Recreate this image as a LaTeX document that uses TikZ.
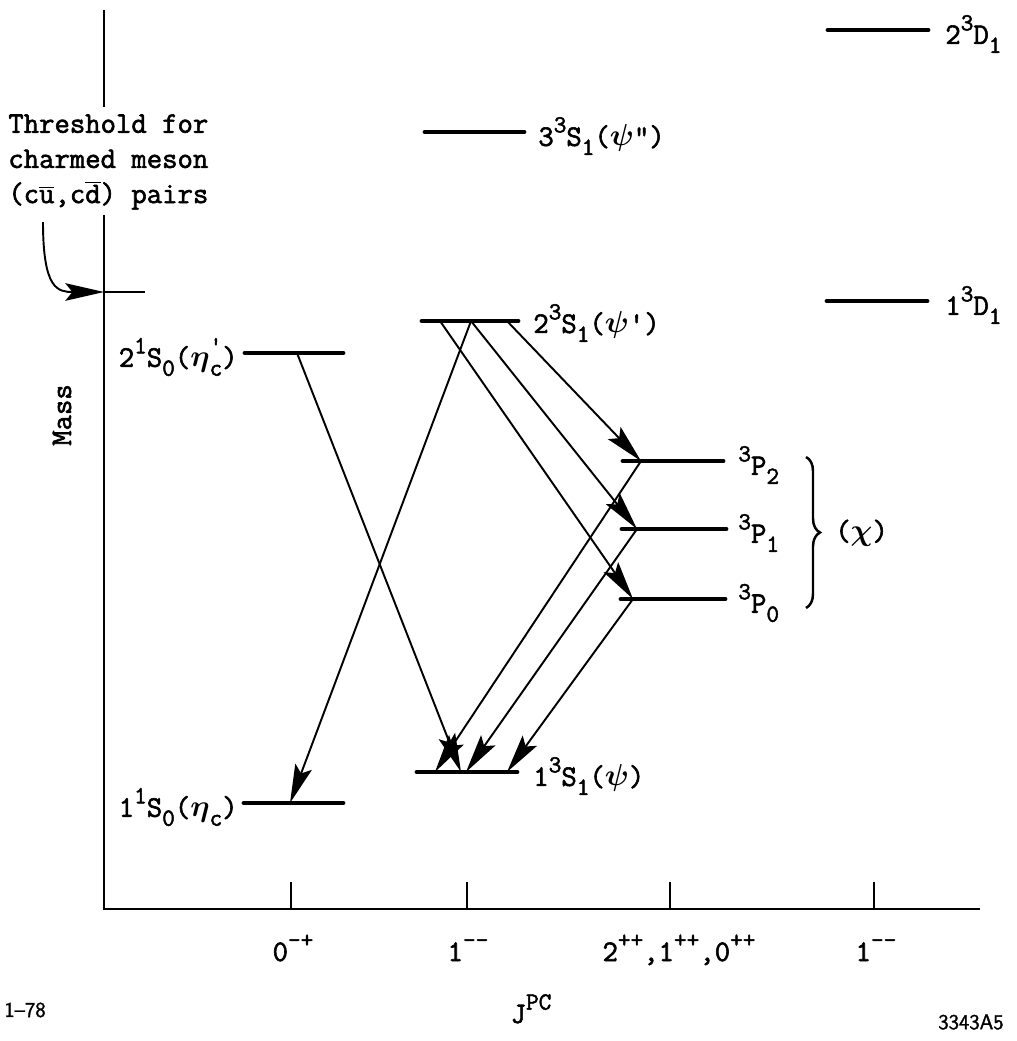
\documentclass[tikz,border=0pt]{standalone}
\usepackage{fontspec}
\usepackage{tikz}
\usetikzlibrary{arrows.meta,decorations.pathreplacing}
\newfontfamily\twfont{Latin Modern Mono}[FakeBold=2]
\newfontfamily\tagfont{Latin Modern Sans}[FakeBold=1.5]
\newcommand\hi[1]{\raisebox{0.45em}{\fontsize{14}{14}\selectfont #1}}
\newcommand\lo[1]{\raisebox{-0.3em}{\fontsize{14}{14}\selectfont #1}}

\begin{document}
\begin{tikzpicture}[
    x=0.02cm, y=-0.02cm,
    lbl/.style={font=\twfont\boldmath\fontsize{17}{20}\selectfont, inner sep=0pt},
    tag/.style={font=\tagfont\fontsize{12}{14}\selectfont, inner sep=0pt},
    lvl/.style={line width=2.8pt, line cap=round},
    axis/.style={line width=1.3pt},
    arr/.style={-{Stealth[length=22pt,width=10pt,inset=4pt]}, line width=1.1pt},
    brc/.style={decorate, decoration={brace, amplitude=0.28cm}, line width=1.4pt}
]
\useasboundingbox (0,0) rectangle (1017,1041);

% axes
\coordinate (ax-top) at (104,10);
\coordinate (ax-brk) at (104,107);
\coordinate (ax-mid) at (104,215);
\coordinate (origin) at (104,909);
\coordinate (ax-end) at (980,909);
\draw[axis] (ax-top) -- (ax-brk);
\draw[axis] (ax-mid) -- (origin) -- (ax-end);
\foreach \x in {291,467,670,874}
    \draw[axis] (\x,909) -- (\x,882);

\node[lbl, anchor=base] (jpc0) at (293,961) {0\hi{-+}};
\node[lbl, anchor=base] (jpc1) at (468,961) {1\hi{--}};
\node[lbl, anchor=base] (jpc2) at (679,961) {2\hi{++},1\hi{++},0\hi{++}};
\node[lbl, anchor=base] (jpc3) at (876,961) {1\hi{--}};
\node[lbl, anchor=base] (jpc) at (531,1023) {J\hi{PC}};
\node[lbl, rotate=90] (mass) at (62,415) {Mass};

% threshold
\node[lbl, align=left, anchor=north west] (thr) at (8,114)
    {Threshold for\\charmed meson\\(c$\overline{\mbox{u}}$,c$\overline{\mbox{d}}$) pairs};
\coordinate (thr-pt) at (104,292);
\coordinate (thr-start) at (43,222);
\draw[axis] (thr-pt) -- (145,292);
\draw[arr] (thr-start) .. controls (43,290) and (58,292) .. (thr-pt);

% levels
\draw[lvl] (828,30) -- (928,30);
\node[lbl, anchor=west] (dtwo) at (945,34) {2\hi{3}D\lo{1}};
\draw[lvl] (425,132) -- (524,132);
\node[lbl, anchor=west] (psiPP) at (538,136) {3\hi{3}S\lo{1}($\psi$")};
\draw[lvl] (827,301) -- (927,301);
\node[lbl, anchor=west] (done) at (945,305) {1\hi{3}D\lo{1}};
\draw[lvl] (422,321) -- (518,321);
\node[lbl, anchor=west] (psiP) at (533,323) {2\hi{3}S\lo{1}($\psi$')};
\draw[lvl] (245,353) -- (343,353);
\node[lbl, anchor=east] (etaP) at (238,357) {2\hi{1}S\lo{0}($\eta$\rlap{\hi{'}}\lo{c})};
\draw[lvl] (623,461) -- (723,461);
\node[lbl, anchor=west] (Ptwo) at (738,465) {\hi{3}P\lo{2}};
\draw[lvl] (622,529) -- (726,529);
\node[lbl, anchor=west] (Pone) at (738,533) {\hi{3}P\lo{1}};
\draw[lvl] (621,599) -- (725,599);
\node[lbl, anchor=west] (Pzero) at (738,603) {\hi{3}P\lo{0}};
\draw[lvl] (417,772) -- (517,772);
\node[lbl, anchor=west] (psi) at (533,776) {1\hi{3}S\lo{1}($\psi$)};
\draw[lvl] (244,803) -- (343,803);
\node[lbl, anchor=east] (eta) at (238,807) {1\hi{1}S\lo{0}($\eta$\lo{c})};

\draw[brc] (806,457) -- (806,608);
\node[lbl, anchor=west] (chi) at (835,533) {($\chi$)};

% transition points
\coordinate (etaP-a) at (297,353);
\coordinate (psiP-a) at (440,321);
\coordinate (psiP-b) at (471,321);
\coordinate (psiP-c) at (507,321);
\coordinate (Ptwo-a) at (641,461);
\coordinate (Pone-a) at (637,529);
\coordinate (Pzero-a) at (633,599);
\coordinate (psi-a) at (435,772);
\coordinate (psi-b) at (461,772);
\coordinate (psi-c) at (466,772);
\coordinate (psi-d) at (507,772);
\coordinate (eta-a) at (290,803);

\draw[arr] (etaP-a) -- (psi-b);
\draw[arr] (psiP-b) -- (eta-a);
\draw[arr] (psiP-a) -- (Pzero-a);
\draw[arr] (psiP-b) -- (Pone-a);
\draw[arr] (psiP-c) -- (Ptwo-a);
\draw[arr] (Ptwo-a) -- (psi-a);
\draw[arr] (Pone-a) -- (psi-c);
\draw[arr] (Pzero-a) -- (psi-d);

\node[tag] (date) at (25,1010) {1\textendash78};
\node[tag] (fig) at (971,1022) {3343A5};
\end{tikzpicture}
\end{document}
